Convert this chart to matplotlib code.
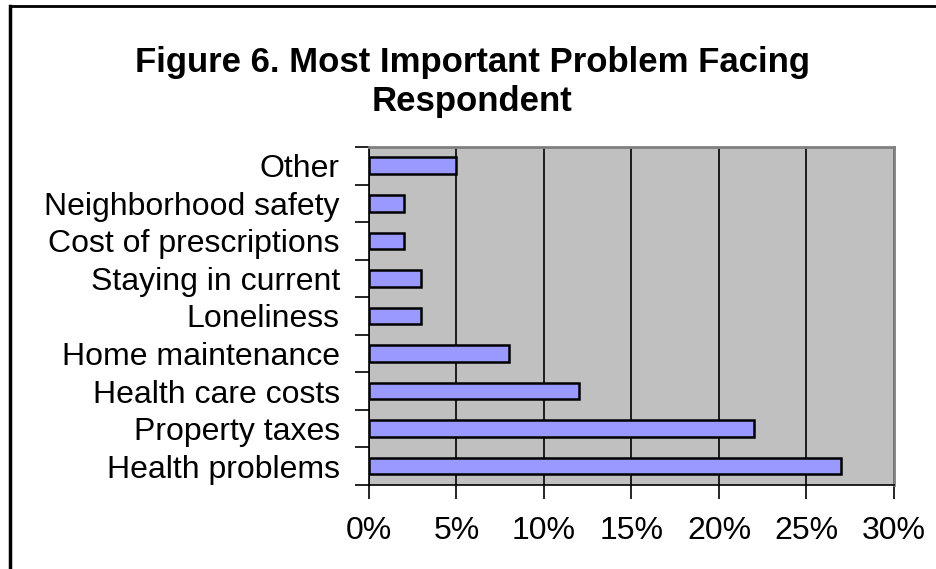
import matplotlib.pyplot as plt
from matplotlib.lines import Line2D
from matplotlib.ticker import FuncFormatter, MultipleLocator

# categories listed bottom to top, as drawn
problems = ['Health problems', 'Property taxes', 'Health care costs',
            'Home maintenance', 'Loneliness', 'Staying in current',
            'Cost of prescriptions', 'Neighborhood safety', 'Other']
percent = [27, 22, 12, 8, 3, 3, 2, 2, 5]

title = 'Figure 6. Most Important Problem Facing\nRespondent'


def graf():
    plt.rcParams['font.family'] = ['Liberation Sans', 'DejaVu Sans']

    fig = plt.figure(figsize=(9.37, 5.69), dpi=100)
    ax = fig.add_axes([0.3938, 0.1476, 0.9541 - 0.3938, 0.7417 - 0.1476])

    ax.set_facecolor('#c0c0c0')
    ax.barh(range(len(problems)), percent, height=0.44,
            color='#9999ff', edgecolor='black', linewidth=1.8, zorder=3)

    ax.set_xlim(0, 30)
    ax.set_ylim(-0.5, len(problems) - 0.5)
    ax.xaxis.set_major_locator(MultipleLocator(5))
    ax.xaxis.set_major_formatter(FuncFormatter(lambda v, p: '%d%%' % v))
    ax.set_yticks(range(len(problems)))
    ax.set_yticklabels(problems)
    ax.set_yticks([i - 0.5 for i in range(len(problems) + 1)], minor=True)

    ax.grid(axis='x', color='black', linewidth=1.2, zorder=1)
    ax.set_axisbelow(True)

    ax.tick_params(axis='y', which='major', length=0, labelsize=23, pad=21)
    ax.tick_params(axis='y', which='minor', length=10, width=1.2, direction='out')
    ax.tick_params(axis='x', length=10, width=1.2, direction='out',
                   labelsize=23, pad=12)

    for side in ['top', 'right']:
        ax.spines[side].set_color('#808080')
        ax.spines[side].set_linewidth(2)
    for side in ['left', 'bottom']:
        ax.spines[side].set_color('black')
        ax.spines[side].set_linewidth(1.2)

    fig.text(0.504, 0.856, title, ha='center', va='center',
             fontsize=25, fontweight='bold', linespacing=1.2)

    # chart frame, only left and top edges fall inside the picture
    fig.add_artist(Line2D([0.011, 0.011], [0, 0.99], color='black', linewidth=2.5,
                          transform=fig.transFigure))
    fig.add_artist(Line2D([0.011, 1], [0.99, 0.99], color='black', linewidth=2,
                          transform=fig.transFigure))

    fig.savefig('out.png', dpi=100)


if __name__ == '__main__':
    graf()
